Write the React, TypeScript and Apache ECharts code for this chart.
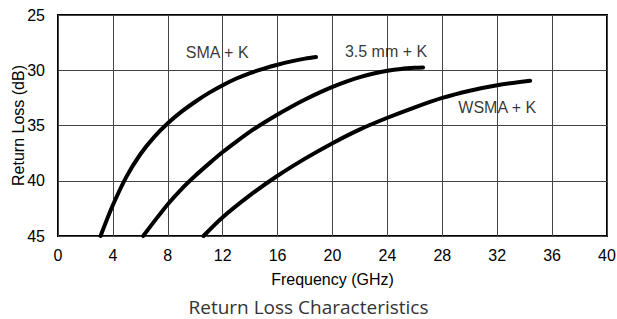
import { useEffect, useRef } from "react";
import * as echarts from "echarts";

// Frequency (GHz), Return Loss (dB)
const smaK: number[][] = [
  [3.1, 45], [4, 42.2], [5, 39.6], [6, 37.6], [7, 36.05], [8, 34.8],
  [9, 33.75], [10, 32.85], [11, 32.05], [12, 31.35], [13, 30.75], [14, 30.25],
  [15, 29.85], [16, 29.5], [17, 29.2], [18, 28.95], [18.8, 28.8],
];
const mm35K: number[][] = [
  [6.2, 45], [7, 43.7], [8, 42.12], [9, 40.75], [10, 39.55], [11, 38.45],
  [12, 37.4], [13, 36.45], [14, 35.55], [15, 34.75], [16, 34.0], [17, 33.3],
  [18, 32.65], [19, 32.05], [20, 31.5], [21, 31.02], [22, 30.62], [23, 30.3],
  [24, 30.05], [25, 29.88], [26, 29.78], [26.6, 29.75],
];
const wsmaK: number[][] = [
  [10.6, 45], [12, 43.3], [14, 41.3], [16, 39.55], [18, 38.0], [20, 36.6],
  [22, 35.35], [24, 34.3], [26, 33.35], [28, 32.5], [30, 31.85], [32, 31.35],
  [34.4, 30.95],
];

const curveNames = ["SMA + K", "3.5 mm + K", "WSMA + K"];
const labelX = [11.6, 23.9, 32.0];
const labelY = [28.4, 28.3, 33.4];

const xMin = 0, xMax = 40, xStep = 4;
const yMin = 25, yMax = 45, yStep = 5;

const FONT = "'Liberation Sans', Arial, Helvetica, sans-serif";

export default function App() {
  const ref = useRef<HTMLDivElement>(null);
  useEffect(() => {
    if (!ref.current) return;
    const chart = echarts.init(ref.current, null, { renderer: "svg" });
    const curves = [smaK, mm35K, wsmaK];
    chart.setOption({
      animation: false,
      backgroundColor: "#fff",
      title: {
        text: "Return Loss Characteristics",
        left: "center",
        top: 292,
        textStyle: {
          fontFamily: "'Open Sans', 'Noto Sans', sans-serif",
          fontSize: 19,
          fontWeight: "normal",
          color: "#333",
        },
      },
      grid: {
        left: 58, top: 15, right: 10, bottom: 83,
        containLabel: false,
        outerBoundsMode: "none",
        show: true, borderColor: "#000", borderWidth: 2,
      },
      xAxis: {
        type: "value",
        min: xMin, max: xMax, interval: xStep,
        name: "Frequency (GHz)",
        nameLocation: "middle",
        nameGap: 35,
        nameMoveOverlap: false,
        nameTextStyle: { fontFamily: FONT, fontSize: 16, color: "#000" },
        axisLine: { show: false },
        axisTick: { show: false },
        axisLabel: { margin: 11, fontFamily: FONT, fontSize: 16, color: "#000" },
        splitLine: { show: true, lineStyle: { color: "#444", width: 1 } },
      },
      yAxis: {
        type: "value",
        min: yMin, max: yMax, interval: yStep,
        inverse: true,
        name: "Return Loss (dB)",
        nameLocation: "middle",
        nameGap: 32,
        nameMoveOverlap: false,
        nameTextStyle: { fontFamily: FONT, fontSize: 16, color: "#000" },
        axisLine: { show: false },
        axisTick: { show: false },
        axisLabel: { margin: 13, fontFamily: FONT, fontSize: 16, color: "#000" },
        splitLine: { show: true, lineStyle: { color: "#444", width: 1 } },
      },
      series: [
        ...curves.map((d, i) => ({
          type: "line",
          name: curveNames[i],
          data: d,
          smooth: 0.3,
          showSymbol: false,
          symbol: "none",
          lineStyle: { color: "#000", width: 4, cap: "round" },
          z: 3,
        })),
        {
          type: "scatter",
          symbolSize: 0,
          data: curveNames.map((n, i) => ({ name: n, value: [labelX[i], labelY[i]] })),
          label: {
            show: true,
            position: "inside",
            formatter: (p: any) => p.name,
            fontFamily: FONT,
            fontSize: 16,
            color: "#000",
          },
          z: 4,
        },
      ],
    });
    return () => chart.dispose();
  }, []);
  return (
    <div
      ref={ref}
      style={{ position: "fixed", left: 0, top: 0, width: 617, height: 319 }}
    />
  );
}
